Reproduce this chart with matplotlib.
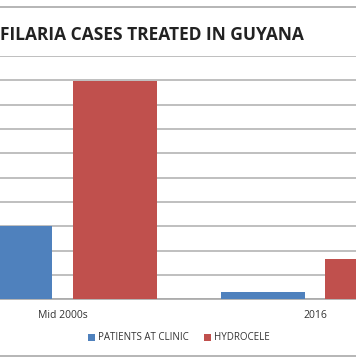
import matplotlib.pyplot as plt
from matplotlib.lines import Line2D
import numpy as np

# Data (y axis labels are cropped away in the source; values read in gridline units)
categories = ["Mid 2000s", "2016"]
patients = [3000, 290]
hydrocele = [8970, 1650]
series_names = ["PATIENTS AT CLINIC", "HYDROCELE"]
colors = ["#4F81BD", "#C0504D"]

plt.rcParams['font.family'] = ['Open Sans', 'DejaVu Sans']

fig = plt.figure(figsize=(3.56, 3.64), dpi=100)
W, H = 356, 364

# plot area partly outside the canvas (the source image is a crop)
left, right = -63.75, 441.25
top, bottom = 56, 299.3
ax = fig.add_axes([left / W, (H - bottom) / H, (right - left) / W, (bottom - top) / H])

x = np.arange(len(categories))
bw = 0.331
off = 0.207
ax.bar(x - off, patients, bw, color=colors[0], label=series_names[0], zorder=3)
ax.bar(x + off, hydrocele, bw, color=colors[1], label=series_names[1], zorder=3)

ax.set_xlim(-0.5, 1.5)
ax.set_ylim(0, 10000)
ax.set_yticks(np.arange(0, 10001, 1000))
ax.yaxis.grid(True, color="#b4b4b4", linewidth=1.2, zorder=0)
ax.set_axisbelow(True)
for s in ["left", "right", "top"]:
    ax.spines[s].set_visible(False)
ax.spines["bottom"].set_color("#a8a8a8")
ax.spines["bottom"].set_linewidth(1.2)
ax.tick_params(left=False, labelleft=False, bottom=False)
ax.set_xticks(x)
ax.set_xticklabels(categories, fontsize=7.5, color="#333333")
ax.tick_params(axis="x", pad=4)

fig.text(0.0, (H - 35) / H, "FILARIA CASES TREATED IN GUYANA", fontsize=12.5,
         fontweight="bold", color="#222222", ha="left", va="center")

handles, labels = ax.get_legend_handles_labels()
fig.legend(handles, labels, loc="center", bbox_to_anchor=(179 / W, (H - 338) / H),
           ncol=2, frameon=False, fontsize=7, handlelength=0.7, handleheight=0.7,
           handletextpad=0.3, columnspacing=1.6, labelcolor="#333333")

# border lines of the original chart frame
fig.add_artist(Line2D([0, 1], [(H - 7) / H] * 2, color="#b0b0b0", linewidth=1.3))
fig.add_artist(Line2D([0, 1], [(H - 355.5) / H] * 2, color="#b0b0b0", linewidth=1.3))

fig.savefig("out.png", dpi=100)
